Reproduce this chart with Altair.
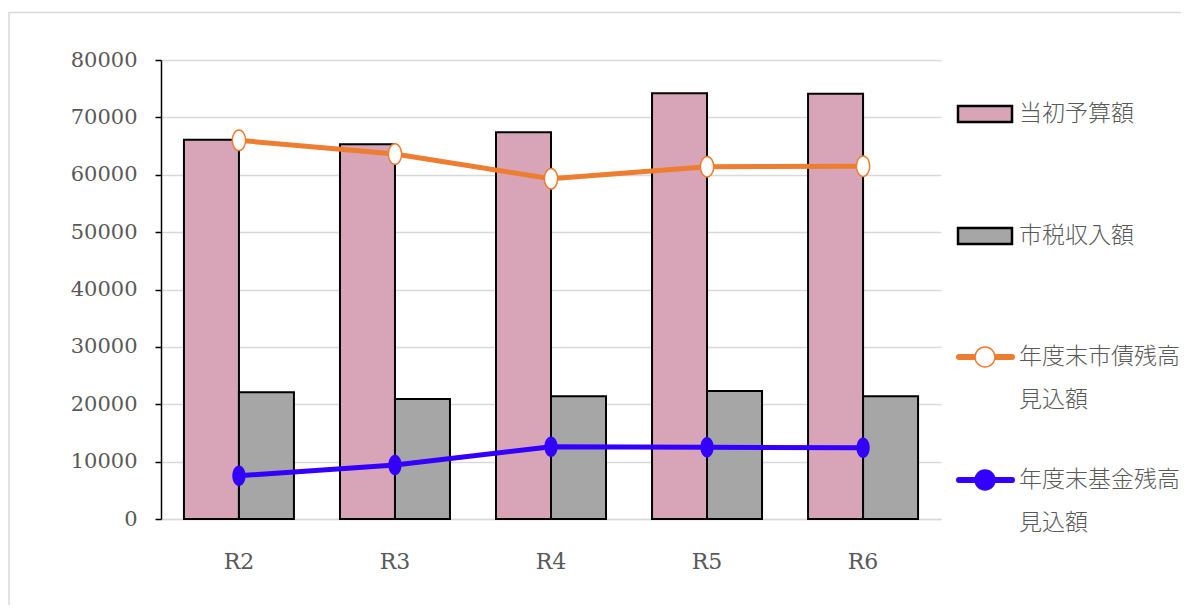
import altair as alt
import pandas as pd

categories = ["R2", "R3", "R4", "R5", "R6"]
budget = [66100, 65300, 67400, 74200, 74100]      # 当初予算額
tax = [22100, 20900, 21400, 22300, 21400]         # 市税収入額
debt = [66000, 63600, 59300, 61400, 61500]        # 年度末市債残高見込額
fund = [7550, 9400, 12600, 12500, 12400]          # 年度末基金残高見込額

bar_names = ["当初予算額", "市税収入額"]
line_names = ["年度末市債残高\n見込額", "年度末基金残高\n見込額"]
y_ticks = [0, 10000, 20000, 30000, 40000, 50000, 60000, 70000, 80000]

PINK = "#d8a5b8"
GRAY = "#a6a6a6"
ORANGE = "#ed7d31"
BLUE = "#3300ff"
TXT = "#595959"
ELLIPSE = "M0,-1 A0.65,1 0 1,1 0,1 A0.65,1 0 1,1 0,-1 Z"

bars_df = pd.DataFrame({
    "cat": categories * 2,
    "series": [bar_names[0]] * 5 + [bar_names[1]] * 5,
    "value": budget + tax,
})
debt_df = pd.DataFrame({"cat": categories, "value": debt})
fund_df = pd.DataFrame({"cat": categories, "value": fund})

xenc = alt.X("cat:N", sort=categories, title=None,
             scale=alt.Scale(paddingInner=0.295, paddingOuter=0.147),
             axis=alt.Axis(labelAngle=0, ticks=False, domainColor="#d9d9d9",
                           domainWidth=1.5, labelPadding=32, labelFontSize=22,
                           labelFont="DejaVu Serif", labelColor=TXT, grid=False))
yscale = alt.Scale(domain=[0, 80000], nice=False)
yaxis = alt.Axis(values=y_ticks, format="d", title=None, labelFontSize=21,
                 labelFont="DejaVu Serif", labelColor=TXT, labelPadding=18,
                 tickSize=6, tickColor="black", tickWidth=1.5, domainColor="black",
                 domainWidth=1.5, gridColor="#d9d9d9", gridWidth=1.3)

bars = alt.Chart(bars_df).mark_bar(stroke="black", strokeWidth=2).encode(
    x=xenc,
    xOffset=alt.XOffset("series:N", sort=bar_names,
                        scale=alt.Scale(paddingInner=0, paddingOuter=0)),
    y=alt.Y("value:Q", scale=yscale, axis=yaxis),
    fill=alt.Fill("series:N", sort=bar_names,
                  scale=alt.Scale(domain=bar_names, range=[PINK, GRAY]), legend=None),
)

debt_line = alt.Chart(debt_df).mark_line(color=ORANGE, strokeWidth=5).encode(
    x=alt.X("cat:N", sort=categories), y=alt.Y("value:Q", scale=yscale))
debt_pts = alt.Chart(debt_df).mark_point(shape=ELLIPSE, filled=True, fill="white",
                                         stroke=ORANGE, strokeWidth=1.5, size=420,
                                         opacity=1).encode(
    x=alt.X("cat:N", sort=categories), y=alt.Y("value:Q", scale=yscale))
fund_line = alt.Chart(fund_df).mark_line(color=BLUE, strokeWidth=5).encode(
    x=alt.X("cat:N", sort=categories), y=alt.Y("value:Q", scale=yscale))
fund_pts = alt.Chart(fund_df).mark_point(shape=ELLIPSE, filled=True, fill=BLUE,
                                         size=420, opacity=1).encode(
    x=alt.X("cat:N", sort=categories), y=alt.Y("value:Q", scale=yscale))

# ---- manual legend (outside the plot area, on the right) ----
one = pd.DataFrame({"k": [0]})


def legend_rect(yc, color):
    return alt.Chart(one).mark_rect(fill=color, stroke="black", strokeWidth=2.5).encode(
        x=alt.value(797), x2=alt.value(851), y=alt.value(yc - 8), y2=alt.value(yc + 8))


def legend_line(yc, color, fill):
    ln = alt.Chart(one).mark_rule(color=color, strokeWidth=6, strokeCap="round").encode(
        x=alt.value(798), x2=alt.value(851), y=alt.value(yc))
    pt = alt.Chart(one).mark_point(shape="circle", filled=True, fill=fill, stroke=color,
                                   strokeWidth=1.5, size=400, opacity=1).encode(
        x=alt.value(824), y=alt.value(yc))
    return ln + pt


def legend_text(yc, label):
    return alt.Chart(pd.DataFrame({"t": [label]})).mark_text(
        align="left", baseline="middle", font="Noto Sans CJK JP", fontSize=23,
        fontWeight=300, color=TXT, lineBreak="\n", lineHeight=43).encode(
        x=alt.value(858), y=alt.value(yc), text="t:N")


border = alt.Chart(one).mark_rect(fill=None, stroke="#d9d9d9", strokeWidth=1.5).encode(
    x=alt.value(-152), x2=alt.value(1200), y=alt.value(-47.5), y2=alt.value(700))

legend = (legend_rect(54, PINK) + legend_text(54, bar_names[0])
          + legend_rect(176, GRAY) + legend_text(176, bar_names[1])
          + legend_line(297, ORANGE, "white") + legend_text(297, line_names[0])
          + legend_line(420, BLUE, BLUE) + legend_text(420, line_names[1]))

chart = alt.layer(border, bars, debt_line, fund_line, debt_pts, fund_pts, legend).properties(
    width=780, height=459,
    autosize=alt.AutoSizeParams(type="none"),
    padding={"left": 153, "top": 52, "right": 240, "bottom": 86},
    background="white",
).configure_view(stroke=None)

chart.save("out.html", embed_options={"renderer": "svg", "actions": False})
